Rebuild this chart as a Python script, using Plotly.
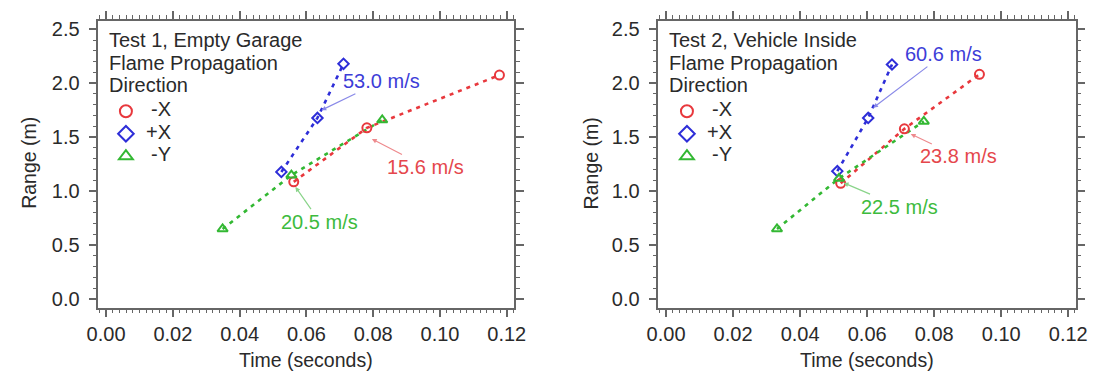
import plotly.graph_objects as go

# ---- data ----
series_names = ["-X", "+X", "-Y"]
t1_negx = [0.0562, 0.0781, 0.1178]
r1_negx = [1.086, 1.586, 2.075]
t1_posx = [0.0525, 0.0633, 0.0711]
r1_posx = [1.178, 1.678, 2.179]
t1_negy = [0.0349, 0.0555, 0.0827]
r1_negy = [0.649, 1.148, 1.659]

t2_negx = [0.0521, 0.0711, 0.0935]
r2_negx = [1.072, 1.577, 2.082]
t2_posx = [0.0511, 0.0603, 0.0674]
r2_posx = [1.185, 1.678, 2.173]
t2_negy = [0.0331, 0.0516, 0.0769]
r2_negy = [0.649, 1.118, 1.646]

speeds1 = ["15.6 m/s", "53.0 m/s", "20.5 m/s"]
speeds2 = ["23.8 m/s", "60.6 m/s", "22.5 m/s"]
titles1 = ["Test 1, Empty Garage", "Flame Propagation", "Direction"]
titles2 = ["Test 2, Vehicle Inside", "Flame Propagation", "Direction"]
x_ticks = [0, 0.02, 0.04, 0.06, 0.08, 0.10, 0.12]
y_ticks = [0, 0.5, 1.0, 1.5, 2.0, 2.5]

# ---- styles ----
W, H = 1104, 373


def px(x):
    return x / W


def py(y):
    return 1 - y / H


FONT = "Liberation Sans, Arial, Helvetica, sans-serif"
TXT = "#2a2a2a"
AX = "#666666"
colors = ["#e8383d", "#2e2ed8", "#33b833"]
txtcolors = ["#e5474c", "#3d3dd8", "#3dbb3d"]
arrowcolors = ["#ee8a8d", "#8a8ae8", "#8ad48a"]
symbols = ["circle-open", "diamond-open", "triangle-up-open"]
msizes = [9, 8, 9]

fig = go.Figure()

panels = [
    ("x", "y", "legend", [(t1_negx, r1_negx), (t1_posx, r1_posx), (t1_negy, r1_negy)]),
    ("x2", "y2", "legend2", [(t2_negx, r2_negx), (t2_posx, r2_posx), (t2_negy, r2_negy)]),
]

for xa, ya, lg, sers in panels:
    for i, (tt, rr) in enumerate(sers):
        fig.add_trace(go.Scatter(
            x=tt, y=rr, mode="lines", xaxis=xa, yaxis=ya,
            line=dict(color=colors[i], width=2.6, dash="4px,5px"),
            showlegend=False, hoverinfo="skip"))
    for i, (tt, rr) in enumerate(sers):
        fig.add_trace(go.Scatter(
            x=tt, y=rr, mode="markers", xaxis=xa, yaxis=ya, name=" ",
            legend=lg,
            marker=dict(symbol=symbols[i], size=msizes[i], color=colors[i],
                        line=dict(color=colors[i], width=2)),
            showlegend=True))

xr = [-0.0023, 0.1222]
yr = [-0.08, 2.578]
ydom = [py(309), py(19)]
xdom1 = [px(88.3), px(513.3)]
xdom2 = [px(660.7), px(1087.3)]

axis_common = dict(
    showline=True, linecolor=AX, linewidth=1.5, mirror="ticks",
    ticks="outside", ticklen=8, tickwidth=1.5, tickcolor=AX,
    showgrid=False, zeroline=False,
    tickfont=dict(family=FONT, size=20, color=TXT),
)
xa_common = dict(axis_common, range=xr, tickvals=x_ticks, tickformat=".2f",
                 minor=dict(ticks="outside", ticklen=4, tickwidth=1.2, tickcolor=AX, dtick=0.002,
                            tick0=0, showgrid=False))
ya_common = dict(axis_common, range=yr, tickvals=y_ticks, tickformat=".1f",
                 ticklabelstandoff=5,
                 minor=dict(ticks="outside", ticklen=4, tickwidth=1.2, tickcolor=AX, dtick=0.1,
                            tick0=0, showgrid=False))

fig.update_layout(
    width=W, height=H,
    margin=dict(l=0, r=0, t=0, b=0),
    paper_bgcolor="white", plot_bgcolor="white",
    font=dict(family=FONT, color=TXT),
    xaxis=dict(xa_common, domain=xdom1, anchor="y"),
    yaxis=dict(ya_common, domain=ydom, anchor="x"),
    xaxis2=dict(xa_common, domain=xdom2, anchor="y2"),
    yaxis2=dict(ya_common, domain=ydom, anchor="x2"),
)

# legends: plotly draws the symbols, labels are drawn as annotations
legend_common = dict(
    bgcolor="rgba(0,0,0,0)", borderwidth=0,
    font=dict(family=FONT, size=15, color=TXT),
    xanchor="left", yanchor="top", tracegroupgap=0, itemsizing="constant",
    traceorder="normal", itemwidth=30,
)
fig.update_layout(
    legend=dict(legend_common, x=px(96), y=py(94)),
    legend2=dict(legend_common, x=px(669.5), y=py(94)),
)

label_y = [108.3, 131.7, 154]
title_y = [38.3, 61.5, 83.5]
for lx, ttl in [(97, titles1), (670, titles2)]:
    for k, txt in enumerate(ttl):
        fig.add_annotation(x=px(lx), y=py(title_y[k]), xref="paper", yref="paper",
                           xanchor="left", yanchor="middle", text=txt, showarrow=False,
                           font=dict(family=FONT, size=20, color=TXT))
    for k, nm in enumerate(series_names):
        fig.add_annotation(x=px(lx + 68), y=py(label_y[k]), xref="paper", yref="paper",
                           xanchor="right", yanchor="middle", text=nm, showarrow=False,
                           font=dict(family=FONT, size=20, color=TXT))

# speed annotations: (text index, text pos t, r, arrow tip t, r)
ann1 = [(0, 0.0958, 1.223, 0.0796, 1.484), (1, 0.0824, 2.018, 0.0645, 1.750),
        (2, 0.0640, 0.718, 0.0567, 1.039)]
ann2 = [(0, 0.0872, 1.321, 0.0730, 1.529), (1, 0.0829, 2.269, 0.0618, 1.773),
        (2, 0.0696, 0.856, 0.0530, 1.076)]
for (xa, ya, speeds, anns) in [("x", "y", speeds1, ann1), ("x2", "y2", speeds2, ann2)]:
    for i, tx, ty, tipx, tipy in anns:
        fig.add_annotation(
            x=tipx, y=tipy, xref=xa, yref=ya, ax=tx, ay=ty, axref=xa, ayref=ya,
            xanchor="center", yanchor="middle",
            text=speeds[i], showarrow=True, arrowhead=2, arrowsize=0.8, arrowwidth=1.2,
            arrowcolor=arrowcolors[i],
            font=dict(family=FONT, size=20, color=txtcolors[i]))

# axis titles
for cx, cy_x in [((88.3 + 513.3) / 2, 18), ((660.7 + 1087.3) / 2, 592)]:
    fig.add_annotation(x=px(cx), y=py(362), xref="paper", yref="paper",
                       text="Time (seconds)", showarrow=False,
                       xanchor="center", yanchor="middle",
                       font=dict(family=FONT, size=19.5, color=TXT))
    fig.add_annotation(x=px(cy_x), y=py(163), xref="paper", yref="paper",
                       text="Range (m)", showarrow=False, textangle=-90,
                       xanchor="center", yanchor="middle",
                       font=dict(family=FONT, size=19.5, color=TXT))

fig.write_html("out.html", config={"displayModeBar": False},
               post_script="document.body.style.margin='0';document.body.style.overflow='hidden';")
